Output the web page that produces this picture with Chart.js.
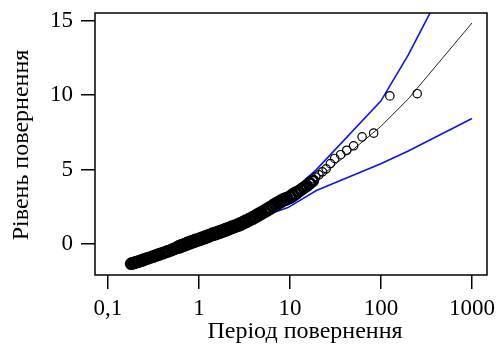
<!DOCTYPE html>
<html>
<head>
<meta charset="utf-8">
<script src="https://cdn.jsdelivr.net/npm/chart.js@4"></script>
<style>
  html, body { margin: 0; padding: 0; background: #fff; }
  canvas { display: block; }
</style>
</head>
<body>
<canvas id="rlChart" width="496" height="350"></canvas>
<script>
// empirical points (return period, level)
const pointPeriods = [0.18, 0.19, 0.2, 0.21, 0.22, 0.23, 0.24, 0.25, 0.27, 0.29, 0.31, 0.33, 0.35, 0.37,
  0.4, 0.43, 0.46, 0.5, 0.53, 0.57, 0.61, 0.65, 0.7, 0.75, 0.8, 0.86, 0.92, 1.0, 1.07, 1.15, 1.23, 1.32,
  1.42, 1.52, 1.63, 1.75, 1.88, 2.0, 2.15, 2.3, 2.5, 2.7, 2.9, 3.1, 3.3, 3.6, 3.9, 4.2, 4.5, 4.8, 5.2,
  5.6, 6.0, 6.5, 7.0, 7.5, 8.0, 8.6, 9.2, 10, 10.7, 11.5, 12.3, 13.2, 14.2, 15.3, 16.5, 17.8,
  19.2, 20.8, 22.7, 25, 27.8, 31, 36, 42, 50, 62, 83, 125, 250];
const pointLevels = [-1.32, -1.28, -1.24, -1.2, -1.16, -1.12, -1.08, -1.04, -0.97, -0.91, -0.85, -0.79, -0.73, -0.68,
  -0.61, -0.54, -0.48, -0.4, -0.33, -0.25, -0.18, -0.11, -0.04, 0.04, 0.1, 0.17, 0.23, 0.3, 0.37, 0.44, 0.51, 0.58,
  0.65, 0.71, 0.77, 0.84, 0.91, 0.98, 1.05, 1.12, 1.2, 1.28, 1.36, 1.45, 1.53, 1.64, 1.75, 1.86, 1.97, 2.07, 2.19,
  2.3, 2.42, 2.55, 2.67, 2.78, 2.88, 2.98, 3.05, 3.15, 3.27, 3.4, 3.52, 3.65, 3.78, 3.92, 4.08, 4.25,
  4.5, 4.65, 4.85, 5.05, 5.4, 5.75, 6.0, 6.3, 6.6, 7.2, 7.45, 9.95, 10.1];

// fitted curve and confidence bounds
const curvePeriods = [0.217, 0.256, 0.285, 0.311, 0.334, 0.357, 0.376, 0.396, 0.415, 0.434, 0.621, 0.831,
  1.09, 1.44, 1.95, 2.8, 4.48, 9.49, 19.5, 99.5, 199.5, 999.5];
const fitLevels = [-1.17, -1.03, -0.94, -0.86, -0.79, -0.73, -0.68, -0.63, -0.58, -0.54, -0.16, 0.14,
  0.39, 0.67, 0.96, 1.35, 2.0, 3.0, 4.3, 7.9, 9.75, 14.85];
const upperLevels = [-1.14, -1.0, -0.91, -0.83, -0.76, -0.7, -0.65, -0.6, -0.55, -0.51, -0.13, 0.17,
  0.42, 0.7, 1.0, 1.42, 2.1, 3.3, 5.0, 9.6, 12.7, 20.96];
const lowerLevels = [-1.2, -1.06, -0.96, -0.88, -0.81, -0.75, -0.7, -0.65, -0.6, -0.56, -0.18, 0.12,
  0.37, 0.64, 0.92, 1.25, 1.75, 2.45, 3.6, 5.4, 6.25, 8.43];

const xTickValues = [0.1, 1, 10, 100, 1000];
const xTickLabels = ['0,1', '1', '10', '100', '1000'];
const yTickValues = [0, 5, 10, 15];

const xTitle = 'Період повернення';
const yTitle = 'Рівень повернення';

function pairs(xs, ys) {
    return xs.map(function (x, i) { return { x: x, y: ys[i] }; });
}

const serif = '"Liberation Serif", "DejaVu Serif", serif';

const frame = {
    id: 'frame',
    afterDraw: function (chart) {
        const ctx = chart.ctx;
        const a = chart.chartArea;
        ctx.save();
        ctx.strokeStyle = '#000';
        ctx.lineWidth = 1.5;
        ctx.strokeRect(a.left, a.top, a.right - a.left, a.bottom - a.top);
        ctx.fillStyle = '#000';
        ctx.font = '24px ' + serif;
        ctx.textAlign = 'center';
        ctx.textBaseline = 'middle';
        ctx.fillText(xTitle, 305, 332);
        ctx.translate(22, 145);
        ctx.rotate(-Math.PI / 2);
        ctx.fillText(yTitle, 0, 0);
        ctx.restore();
    }
};

function noOverflow(scale) {
    scale.paddingTop = 0;
    scale.paddingBottom = 0;
    scale.paddingLeft = 0;
    scale.paddingRight = 0;
}

function bandRadius(c) {
    if (!c.raw || c.raw.x >= 18) return 4.2;
    return (c.raw.x > 0.6 && c.raw.x < 12) ? 5.6 : 5;
}

new Chart(document.getElementById('rlChart'), {
    type: 'scatter',
    data: {
        datasets: [{
            label: 'points',
            data: pairs(pointPeriods, pointLevels),
            showLine: false,
            pointRadius: bandRadius,
            pointBorderWidth: function (c) { return c.raw && c.raw.x < 18 ? 2.8 : 1.2; },
            pointBorderColor: '#000',
            pointBackgroundColor: 'rgba(0,0,0,0)'
        }, {
            label: 'fit',
            data: pairs(curvePeriods, fitLevels),
            showLine: true,
            borderColor: '#222',
            borderWidth: 1,
            pointRadius: 0
        }, {
            label: 'upper',
            data: pairs(curvePeriods, upperLevels),
            showLine: true,
            borderColor: '#1010ff',
            borderWidth: 1.6,
            pointRadius: 0
        }, {
            label: 'lower',
            data: pairs(curvePeriods, lowerLevels),
            showLine: true,
            borderColor: '#1010ff',
            borderWidth: 1.6,
            pointRadius: 0
        }]
    },
    options: {
        responsive: false,
        animation: false,
        devicePixelRatio: 1,
        layout: { padding: { top: 13, right: 9, left: 0, bottom: 0 } },
        plugins: {
            legend: { display: false },
            tooltip: { enabled: false }
        },
        scales: {
            x: {
                type: 'logarithmic',
                bounds: 'data',
                min: 0.072,
                max: 1461,
                afterBuildTicks: function (scale) {
                    scale.ticks = xTickValues.map(function (v) { return { value: v }; });
                },
                afterFit: function (scale) { scale.height = 75; noOverflow(scale); },
                ticks: {
                    autoSkip: false,
                    maxRotation: 0,
                    padding: 6,
                    color: '#000',
                    font: { family: serif, size: 23 },
                    callback: function (value) {
                        const i = xTickValues.indexOf(value);
                        return i >= 0 ? xTickLabels[i] : '';
                    }
                },
                grid: { drawOnChartArea: false, drawTicks: true, tickLength: 14, color: '#000', lineWidth: 1.5 },
                border: { display: false }
            },
            y: {
                bounds: 'data',
                min: -2.08,
                max: 15.52,
                afterBuildTicks: function (scale) {
                    scale.ticks = yTickValues.map(function (v) { return { value: v }; });
                },
                afterFit: function (scale) { scale.width = 95; noOverflow(scale); },
                ticks: {
                    padding: 8,
                    color: '#000',
                    font: { family: serif, size: 23 }
                },
                grid: { drawOnChartArea: false, drawTicks: true, tickLength: 14, color: '#000', lineWidth: 1.5 },
                border: { display: false }
            }
        }
    },
    plugins: [frame]
});
</script>
</body>
</html>
